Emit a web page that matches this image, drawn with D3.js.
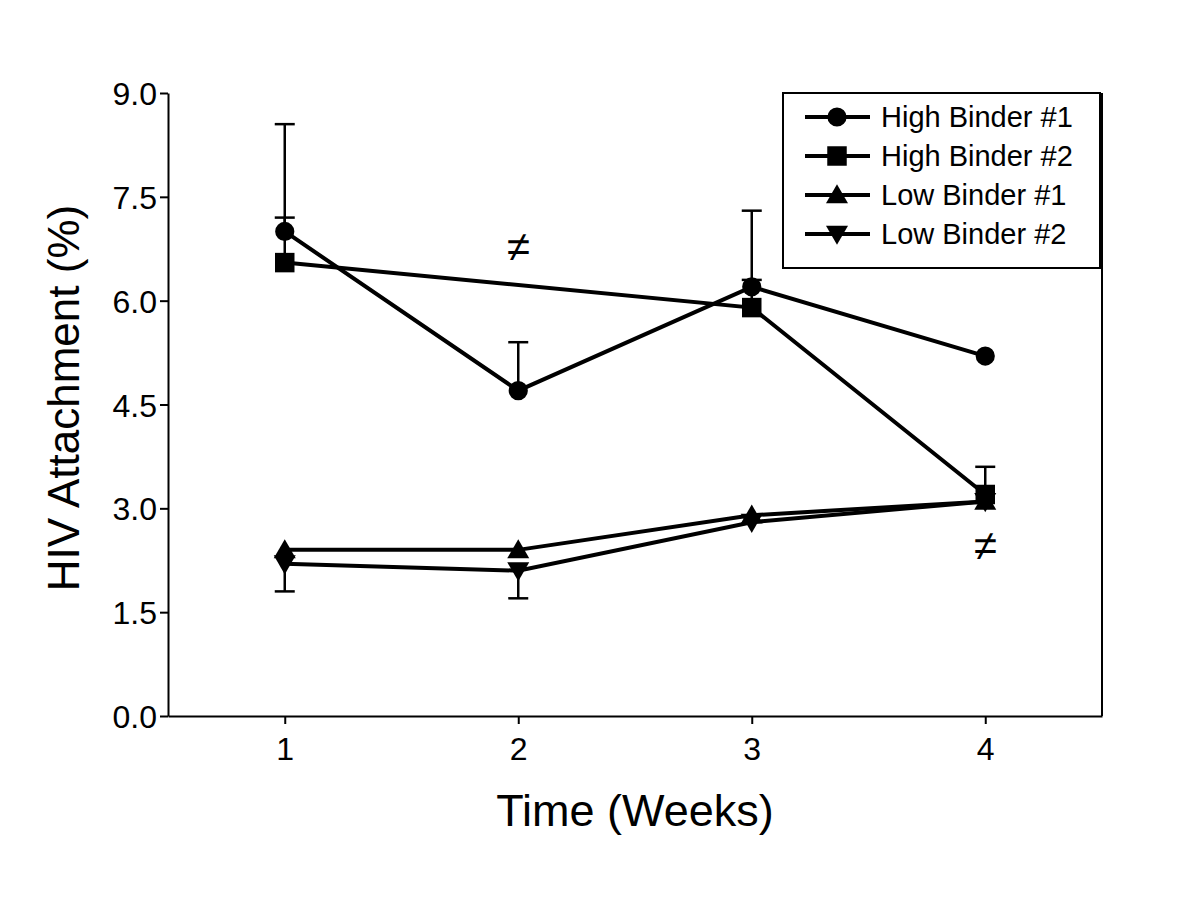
<!DOCTYPE html>
<html>
<head>
<meta charset="utf-8">
<script src="https://cdn.jsdelivr.net/npm/d3@7"></script>
<style>
  html, body { margin: 0; padding: 0; background: #fff; }
  svg { display: block; font-family: "Liberation Sans", Arial, sans-serif; }
</style>
</head>
<body>
<svg id="chart" width="1200" height="900"></svg>
<script>
// ---- Data ----
const weeks = [1, 2, 3, 4];
const xTickLabels = ["1", "2", "3", "4"];
const yTickValues = [0, 1.5, 3.0, 4.5, 6.0, 7.5, 9.0];

const seriesNames = ["High Binder #1", "High Binder #2", "Low Binder #1", "Low Binder #2"];
const highBinder1 = [7.0, 4.7, 6.2, 5.2];
const highBinder1Err = [1.55, 0.7, 1.1, 0];
const highBinder2 = [6.55, null, 5.9, 3.2];
const highBinder2Err = [0.65, null, 0.4, 0.4];
const lowBinder1 = [2.4, 2.4, 2.9, 3.1];
const lowBinder1Err = [0, 0, 0, 0];
const lowBinder2 = [2.2, 2.1, 2.8, 3.1];
const lowBinder2Err = [0.4, 0.4, 0, 0];

// significance marks (week, value)
const sigWeeks = [2, 4];
const sigValues = [6.78, 2.46];

// ---- Layout ----
const svg = d3.select("#chart");
const mLeft = 168, mRight = 1102, mTop = 93, mBottom = 716;

const x = d3.scaleLinear().domain([0.5, 4.5]).range([mLeft, mRight]);
const y = d3.scaleLinear().domain([0, 9]).range([mBottom, mTop]);

const series = [
  { name: seriesNames[0], values: highBinder1, err: highBinder1Err, dir: 1, symbol: d3.symbolCircle, size: 290, rot: 0 },
  { name: seriesNames[1], values: highBinder2, err: highBinder2Err, dir: 1, symbol: d3.symbolSquare, size: 380, rot: 0 },
  { name: seriesNames[2], values: lowBinder1, err: lowBinder1Err, dir: 1, symbol: d3.symbolTriangle, size: 210, rot: 0 },
  { name: seriesNames[3], values: lowBinder2, err: lowBinder2Err, dir: -1, symbol: d3.symbolTriangle, size: 210, rot: 180 }
];

// ---- Axes ----
const yAxis = d3.axisLeft(y).tickValues(yTickValues).tickFormat(d3.format(".1f")).tickSize(8).tickSizeOuter(0);
const gy = svg.append("g").attr("transform", `translate(${mLeft},0)`).call(yAxis);
gy.select(".domain").attr("stroke", "#000").attr("stroke-width", 2);
gy.selectAll(".tick line").attr("stroke", "#000").attr("stroke-width", 2);
gy.selectAll(".tick text").attr("font-size", 32).attr("fill", "#000").attr("x", -11).attr("dy", "0.36em");

const xAxis = d3.axisBottom(x).tickValues(weeks).tickFormat((d, i) => xTickLabels[i]).tickSize(8).tickSizeOuter(0);
const gx = svg.append("g").attr("transform", `translate(0,${mBottom})`).call(xAxis);
gx.select(".domain").attr("stroke", "#000").attr("stroke-width", 2);
gx.selectAll(".tick line").attr("stroke", "#000").attr("stroke-width", 2);
gx.selectAll(".tick text").attr("font-size", 32).attr("fill", "#000").attr("y", 21).attr("dy", "0.71em");

// right border
svg.append("line").attr("x1", mRight).attr("x2", mRight).attr("y1", mTop).attr("y2", mBottom)
  .attr("stroke", "#000").attr("stroke-width", 2);

// axis titles
svg.append("text").attr("x", (mLeft + mRight) / 2).attr("y", 826).attr("text-anchor", "middle")
  .attr("font-size", 45).text("Time (Weeks)");
svg.append("text").attr("transform", `translate(79,398) rotate(-90)`)
  .attr("text-anchor", "middle").attr("font-size", 44).text("HIV Attachment (%)");

// ---- Error bars ----
const gErr = svg.append("g");
series.forEach(s => {
  weeks.forEach((w, i) => {
    const v = s.values[i], e = s.err[i];
    if (v == null || !e) return;
    const end = v + s.dir * e;
    gErr.append("line").attr("x1", x(w)).attr("x2", x(w)).attr("y1", y(v)).attr("y2", y(end))
      .attr("stroke", "#000").attr("stroke-width", 2.5);
    gErr.append("line").attr("x1", x(w) - 10).attr("x2", x(w) + 10).attr("y1", y(end)).attr("y2", y(end))
      .attr("stroke", "#000").attr("stroke-width", 2.5);
  });
});

// ---- Lines ----
const line = d3.line().x(d => x(d[0])).y(d => y(d[1]));
series.forEach(s => {
  const pts = weeks.map((w, i) => [w, s.values[i]]).filter(d => d[1] != null);
  svg.append("path").attr("d", line(pts)).attr("fill", "none").attr("stroke", "#000").attr("stroke-width", 4);
});

// ---- Markers ----
series.forEach(s => {
  const pts = weeks.map((w, i) => [w, s.values[i]]).filter(d => d[1] != null);
  svg.append("g").selectAll("path").data(pts).join("path")
    .attr("d", d3.symbol().type(s.symbol).size(s.size))
    .attr("transform", d => `translate(${x(d[0])},${y(d[1]) + (s.rot ? -1 : 1) * (s.symbol === d3.symbolTriangle ? 2 : 0)}) rotate(${s.rot})`)
    .attr("fill", "#000");
});

// ---- Significance marks ----
svg.append("g").selectAll("text").data(sigWeeks).join("text")
  .attr("x", d => x(d)).attr("y", (d, i) => y(sigValues[i]))
  .attr("text-anchor", "middle").attr("dy", "0.33em").attr("font-size", 42)
  .text("≠");

// ---- Legend ----
const lg = svg.append("g");
lg.append("rect").attr("x", 783).attr("y", mTop).attr("width", 317).attr("height", 175)
  .attr("fill", "#fff").attr("stroke", "#000").attr("stroke-width", 2);
series.forEach((s, i) => {
  const ly = 117 + i * 39;
  lg.append("line").attr("x1", 805).attr("x2", 870).attr("y1", ly).attr("y2", ly)
    .attr("stroke", "#000").attr("stroke-width", 4);
  lg.append("path").attr("d", d3.symbol().type(s.symbol).size(s.size))
    .attr("transform", `translate(837,${ly + (s.rot ? -1 : 1) * (s.symbol === d3.symbolTriangle ? 2 : 0)}) rotate(${s.rot})`)
    .attr("fill", "#000");
  lg.append("text").attr("x", 881).attr("y", ly).attr("dy", "0.36em").attr("font-size", 29).text(s.name);
});
</script>
</body>
</html>
